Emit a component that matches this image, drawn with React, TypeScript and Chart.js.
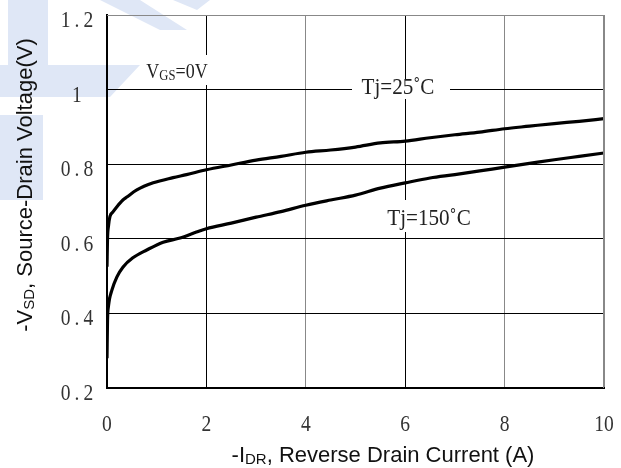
import { Chart, registerables } from "chart.js";
import { useEffect, useRef } from "react";

Chart.register(...registerables);

// Tj = 25 C curve
const current25 = [0, 0.01, 0.03, 0.06, 0.12, 0.2, 0.32, 0.4, 0.6, 0.93, 1.33, 1.6, 2, 2.5, 3, 3.5, 4, 4.5, 5, 5.5, 6, 6.5, 7, 7.5, 8, 8.5, 9, 9.5, 10];
const voltage25 = [0.525, 0.6, 0.635, 0.66, 0.672, 0.686, 0.704, 0.712, 0.731, 0.75, 0.764, 0.772, 0.785, 0.798, 0.811, 0.821, 0.832, 0.838, 0.846, 0.857, 0.862, 0.871, 0.879, 0.886, 0.895, 0.902, 0.909, 0.915, 0.922];

// Tj = 150 C curve
const current150 = [0, 0.01, 0.03, 0.1, 0.2, 0.32, 0.52, 0.8, 1.13, 1.47, 1.8, 2, 2.5, 3, 3.5, 4, 4.5, 5, 5.5, 6, 6.5, 7, 7.5, 8, 8.5, 9, 9.5, 10];
const voltage150 = [0.28, 0.38, 0.42, 0.463, 0.498, 0.524, 0.549, 0.57, 0.591, 0.602, 0.618, 0.627, 0.642, 0.658, 0.673, 0.69, 0.704, 0.717, 0.736, 0.75, 0.763, 0.772, 0.782, 0.792, 0.802, 0.812, 0.821, 0.83];

const xTicks = [0, 2, 4, 6, 8, 10];
const yTicks = [0.2, 0.4, 0.6, 0.8, 1.0, 1.2];

const SERIF = "'Liberation Serif', 'DejaVu Serif', serif";
const SANS = "'Liberation Sans', Arial, sans-serif";

type Seg = { text: string; sub?: boolean };

// text with subscripts, centred on cx, sitting on baseline by, squeezed by sx
function drawRich(ctx: CanvasRenderingContext2D, segs: Seg[], cx: number, by: number, family: string, size: number, subSize: number, sx = 1) {
  const fontOf = (s: Seg) => `${s.sub ? subSize : size}px ${family}`;
  let total = 0;
  for (const s of segs) {
    ctx.font = fontOf(s);
    total += ctx.measureText(s.text).width;
  }
  ctx.save();
  ctx.translate(cx, by);
  ctx.scale(sx, 1);
  let x = -total / 2;
  ctx.textAlign = "left";
  ctx.textBaseline = "alphabetic";
  for (const s of segs) {
    ctx.font = fontOf(s);
    ctx.fillText(s.text, x, s.sub ? 1.5 : 0);
    x += ctx.measureText(s.text).width;
  }
  ctx.restore();
}

// spaced-out, narrow tick text centred on cx, baseline by
function drawTick(ctx: CanvasRenderingContext2D, text: string, cx: number, by: number, gap: number) {
  const sx = 0.85;
  ctx.save();
  ctx.font = `23px ${SERIF}`;
  ctx.translate(cx, by);
  ctx.scale(sx, 1);
  const chars = text.split("");
  const widths = chars.map((c) => ctx.measureText(c).width);
  const g = gap / sx;
  const total = widths.reduce((a, b) => a + b, 0) + g * (chars.length - 1);
  let x = -total / 2;
  ctx.textAlign = "left";
  ctx.textBaseline = "alphabetic";
  chars.forEach((c, i) => {
    ctx.fillText(c, x, 0);
    x += widths[i] + g;
  });
  ctx.restore();
}

// faint logo watermark behind the chart
const watermark = {
  id: "watermark",
  beforeDraw(chart: Chart) {
    const ctx = chart.ctx;
    ctx.save();
    ctx.fillStyle = "#dfe7f6";
    const polys = [
      [[8, 0], [48, 0], [48, 65], [8, 65]],
      [[0, 65], [140, 65], [110, 97], [0, 97]],
      [[0, 115], [43, 115], [43, 200], [0, 200]],
      [[100, 0], [140, 0], [187, 30], [160, 30]],
      [[173, 0], [210, 0], [197, 10]],
    ];
    for (const p of polys) {
      ctx.beginPath();
      p.forEach(([x, y], i) => (i ? ctx.lineTo(x, y) : ctx.moveTo(x, y)));
      ctx.closePath();
      ctx.fill();
    }
    ctx.restore();
  },
};

const labels = {
  id: "labels",
  afterDatasetsDraw(chart: Chart) {
    const ctx = chart.ctx;
    const xs = chart.scales.x;
    const ys = chart.scales.y;
    ctx.save();
    // top and right frame
    ctx.strokeStyle = "#888";
    ctx.lineWidth = 1;
    const { left, right, top, bottom } = chart.chartArea;
    ctx.beginPath();
    ctx.moveTo(left, top + 0.5);
    ctx.lineTo(right, top + 0.5);
    ctx.moveTo(right - 0.5, top);
    ctx.lineTo(right - 0.5, bottom);
    ctx.stroke();

    // tick labels
    ctx.fillStyle = "#333";
    for (const v of yTicks) {
      drawTick(ctx, String(Number(v.toFixed(1))), 77, ys.getPixelForValue(v) + 12, 4);
    }
    for (const v of xTicks) {
      drawTick(ctx, String(v), xs.getPixelForValue(v), 431, 0);
    }

    ctx.fillStyle = "#fff";
    ctx.fillRect(143, 55, 68, 30);
    ctx.fillRect(352, 80, 98, 19);
    ctx.fillRect(384, 200, 92, 32);

    ctx.fillStyle = "#222";
    drawRich(ctx, [{ text: "V" }, { text: "GS", sub: true }, { text: "=0V" }], 177, 78, SERIF, 20, 14, 0.9);
    drawRich(ctx, [{ text: "Tj=25˚C" }], 398, 94, SERIF, 24, 14, 0.88);
    drawRich(ctx, [{ text: "Tj=150˚C" }], 429, 225, SERIF, 24, 14, 0.88);

    // axis titles
    ctx.fillStyle = "#111";
    drawRich(ctx, [{ text: "-I" }, { text: "DR", sub: true }, { text: ", Reverse Drain Current (A)" }], 383, 462, SANS, 22, 15);
    ctx.translate(32, 185);
    ctx.rotate(-Math.PI / 2);
    drawRich(ctx, [{ text: "-V" }, { text: "SD", sub: true }, { text: ", Source-Drain Voltage(V)" }], 0, 0, SANS, 22, 15);
    ctx.restore();
  },
};

export default function App() {
  const canvasRef = useRef<HTMLCanvasElement>(null);

  useEffect(() => {
    document.body.style.margin = "0";
    if (!canvasRef.current) return;

    const noPad = (s: any) => {
      s.paddingLeft = 0;
      s.paddingRight = 0;
      s.paddingTop = 0;
      s.paddingBottom = 0;
    };

    const chart = new Chart(canvasRef.current, {
      type: "line",
      data: {
        datasets: [
          {
            label: "Tj=25˚C",
            data: current25.map((x, i) => ({ x, y: voltage25[i] })),
            borderColor: "#000",
            borderWidth: 3.2,
            pointRadius: 0,
            cubicInterpolationMode: "monotone",
          },
          {
            label: "Tj=150˚C",
            data: current150.map((x, i) => ({ x, y: voltage150[i] })),
            borderColor: "#000",
            borderWidth: 3.2,
            pointRadius: 0,
            cubicInterpolationMode: "monotone",
          },
        ],
      },
      options: {
        animation: false,
        responsive: true,
        maintainAspectRatio: false,
        layout: { padding: { top: 15, right: 17, left: 0, bottom: 0 } },
        plugins: {
          legend: { display: false },
          tooltip: { enabled: false },
        },
        scales: {
          x: {
            type: "linear",
            min: 0,
            max: 10,
            afterFit: (s: any) => {
              s.height = 80;
              noPad(s);
            },
            afterBuildTicks: (s: any) => {
              s.ticks = xTicks.map((v) => ({ value: v }));
            },
            border: { color: "#000", width: 2 },
            grid: {
              drawTicks: false,
              color: (c: any) => ([4, 8, 10].includes(c.tick?.value) ? "#888" : "#000"),
              lineWidth: 1,
            },
            // labels are drawn narrow by the labels plugin
            ticks: { display: false },
          },
          y: {
            min: 0.2,
            max: 1.2,
            afterFit: (s: any) => {
              s.width = 107;
              noPad(s);
            },
            afterBuildTicks: (s: any) => {
              s.ticks = yTicks.map((v) => ({ value: v }));
            },
            border: { color: "#000", width: 2 },
            grid: {
              drawTicks: false,
              color: (c: any) => (Math.abs((c.tick?.value ?? 0) - 1.2) < 1e-6 ? "#888" : "#000"),
              lineWidth: 1,
            },
            // labels are drawn spaced-out by the labels plugin
            ticks: { display: false },
          },
        },
      },
      plugins: [watermark, labels],
    });

    return () => {
      chart.destroy();
    };
  }, []);

  return (
    <div style={{ width: 621, height: 468, position: "relative", background: "#fff" }}>
      <canvas ref={canvasRef}></canvas>
    </div>
  );
}
